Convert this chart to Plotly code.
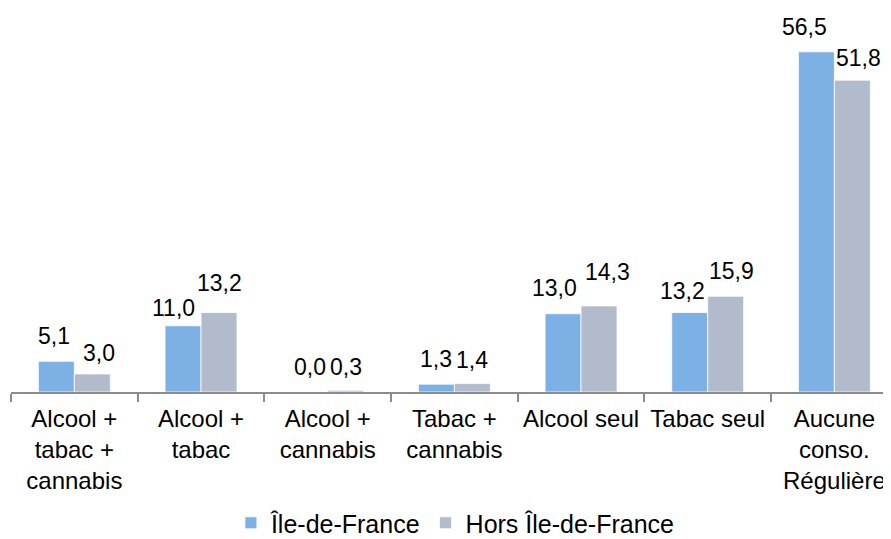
import plotly.graph_objects as go

categories = ["Alcool +<br>tabac +<br>cannabis", "Alcool +<br>tabac", "Alcool +<br>cannabis",
              "Tabac +<br>cannabis", "Alcool seul", "Tabac seul", "Aucune<br>conso.<br>Régulière"]
idf = [5.1, 11.0, 0.0, 1.3, 13.0, 13.2, 56.5]
hors_idf = [3.0, 13.2, 0.3, 1.4, 14.3, 15.9, 51.8]
series_names = ["Île-de-France", "Hors Île-de-France"]
colors = ["#7DB1E5", "#B2BBCB"]

# label placement tweaks (pixels), mimicking the original's overlap avoidance
label_dx = [[-2, -10, 0, 0, -9, -7, -12], [7, 0, 0, 0, 8, 6, 6]]
label_gap = [[17, 10, 17, 17, 18, 14, 17], [13, 22, 15, 16, 26, 17, 14]]

FONT = "Liberation Sans, Arial, sans-serif"

fig = go.Figure()
for name, vals, col in zip(series_names, [idf, hors_idf], colors):
    fig.add_trace(go.Bar(x=categories, y=vals, name=name, marker_color=col,
                         marker_line_color="white", marker_line_width=0.8))

annotations = []
for s, (side, vals) in enumerate(zip([-18, 18], [idf, hors_idf])):
    for i, (c, v) in enumerate(zip(categories, vals)):
        annotations.append(dict(x=c, y=v, xref="x", yref="y", text=f"{v:.1f}".replace(".", ","),
                                showarrow=False, xshift=side + label_dx[s][i],
                                yshift=label_gap[s][i] - 7, yanchor="bottom",
                                font=dict(size=23, color="#000000", family=FONT)))

# the page body adds an 8px offset, so the figure is sized to fit the window
fig.update_layout(
    width=883, height=531,
    margin=dict(l=3, r=0, t=2, b=147, autoexpand=False),
    plot_bgcolor="white", paper_bgcolor="white",
    barmode="group", bargap=0.432, bargroupgap=0,
    font=dict(family=FONT, size=24, color="#000000"),
    showlegend=True,
    legend=dict(orientation="h", x=0.505, xanchor="center", y=-0.343, yanchor="middle",
                font=dict(size=25), itemwidth=30, traceorder="normal"),
    annotations=annotations,
    xaxis=dict(showline=True, linecolor="#8C8C8C", linewidth=1.5, ticks="outside",
               tickson="boundaries", ticklen=8, tickcolor="#8C8C8C", tickwidth=1.5,
               tickfont=dict(size=24), showgrid=False, automargin=False,
               range=[-0.5, 6.447], ticklabelstandoff=4),
    yaxis=dict(range=[0, 63.45], visible=False, showgrid=False, zeroline=False),
)

fig.write_html("out.html")
